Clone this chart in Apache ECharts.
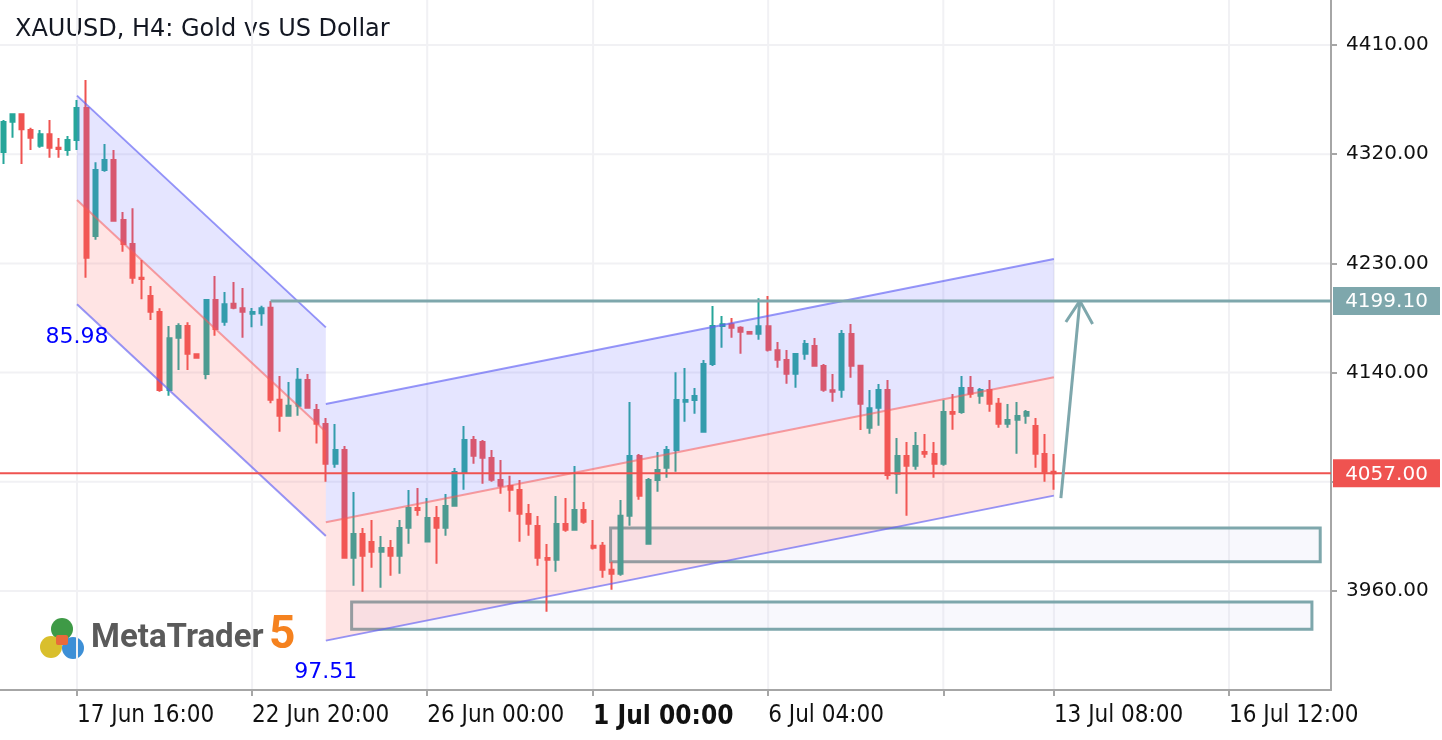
<!DOCTYPE html>
<html>
<head>
<meta charset="utf-8">
<script src="https://cdn.jsdelivr.net/npm/echarts@6.0.0/dist/echarts.min.js"></script>
<style>
  html, body { margin: 0; padding: 0; background: #ffffff; }
  #chart { width: 1442px; height: 740px; }
</style>
</head>
<body>
<div id="chart"></div>
<script>
// trading days shown on the H4 chart (weekends skipped), six bars per day
const tradingDays = ["16 Jun", "17 Jun", "18 Jun", "19 Jun", "22 Jun", "23 Jun", "24 Jun", "25 Jun", "26 Jun",
  "29 Jun", "30 Jun", "1 Jul", "2 Jul", "3 Jul", "6 Jul", "7 Jul", "8 Jul", "9 Jul", "10 Jul",
  "13 Jul", "14 Jul", "15 Jul", "16 Jul", "17 Jul", "20 Jul"];
const barHours = ["00:00", "04:00", "08:00", "12:00", "16:00", "20:00"];
const firstBarOffset = 2; // chart starts at 16 Jun 08:00

// bar index of the labelled time ticks
const timeTicks = [8, 27, 46, 64, 83, 102, 114, 133];
const hiddenTimeTicks = [102];
const boldTimeTicks = [64];

const priceTicks = [3960, 4050, 4140, 4230, 4320, 4410];
const priceLabels = [3960, 4140, 4230, 4320, 4410];

// OHLC per bar (bar 0 = 16 Jun 08:00 ... bar 114 = 13 Jul 08:00)
const open = [4321.8, 4346.8, 4352.9, 4339.9, 4327.0, 4336.4, 4325.4, 4323.5, 4331.7, 4358.1,
  4252.6, 4307.0, 4315.2, 4265.8, 4246.0, 4218.2, 4203.1, 4189.9, 4125.7, 4168.8,
  4178.4, 4155.1, 4138.9, 4199.8, 4181.9, 4196.8, 4193.0, 4188.6, 4188.9, 4193.5,
  4117.7, 4104.5, 4112.7, 4133.9, 4109.2, 4097.6, 4064.9, 4076.2, 3987.4, 4007.0,
  4000.4, 3992.4, 3995.4, 3989.1, 4012.2, 4028.4, 4000.7, 4020.2, 4012.2, 4030.3,
  4058.1, 4084.5, 4082.8, 4069.6, 4051.5, 4046.5, 4043.2, 4023.5, 4013.6, 3987.2,
  3985.8, 4015.2, 4010.5, 4026.8, 3997.3, 3997.3, 3977.6, 3974.3, 4022.1, 4071.3,
  3999.0, 4051.5, 4061.6, 4076.2, 4116.0, 4117.4, 4091.3, 4147.1, 4178.4, 4179.8,
  4177.0, 4173.5, 4172.1, 4178.2, 4158.4, 4150.4, 4139.1, 4155.6, 4161.9, 4145.4,
  4125.4, 4125.9, 4171.8, 4145.7, 4094.6, 4111.1, 4125.7, 4056.7, 4071.3, 4063.3,
  4074.6, 4072.9, 4064.9, 4107.5, 4107.5, 4127.3, 4120.9, 4125.7, 4114.4, 4097.9,
  4101.2, 4104.5, 4096.0, 4072.9, 4058.3];
const close = [4346.5, 4352.9, 4340.5, 4333.6, 4336.4, 4325.4, 4324.3, 4331.7, 4358.1, 4234.7,
  4307.0, 4315.2, 4265.2, 4246.0, 4218.2, 4217.2, 4190.2, 4125.7, 4168.3, 4178.4,
  4155.6, 4152.3, 4199.8, 4175.9, 4196.3, 4193.5, 4190.2, 4190.0, 4193.0, 4117.7,
  4104.5, 4112.7, 4134.2, 4111.1, 4097.9, 4064.9, 4076.2, 3987.4, 4007.0, 3989.1,
  3992.4, 3995.4, 3989.1, 4011.9, 4028.4, 4026.8, 4020.2, 4012.2, 4030.1, 4058.1,
  4084.5, 4071.5, 4069.9, 4051.7, 4046.8, 4043.5, 4023.7, 4015.5, 3987.4, 3985.8,
  4015.2, 4010.5, 4026.8, 4017.1, 3995.7, 3977.6, 3974.3, 4022.1, 4071.3, 4038.5,
  4051.5, 4059.7, 4076.2, 4117.4, 4117.4, 4120.7, 4147.1, 4178.4, 4179.8, 4177.0,
  4173.7, 4172.1, 4178.2, 4158.9, 4150.6, 4139.1, 4155.3, 4163.6, 4145.7, 4125.9,
  4124.3, 4171.8, 4145.7, 4114.4, 4110.6, 4125.7, 4055.6, 4071.3, 4063.3, 4079.5,
  4073.2, 4064.9, 4107.5, 4106.1, 4127.3, 4122.6, 4125.7, 4114.4, 4097.9, 4100.9,
  4104.3, 4107.5, 4073.2, 4058.3, 4057.0];
const low = [4311.9, 4333.6, 4311.9, 4323.5, 4325.4, 4317.1, 4317.1, 4318.8, 4323.5, 4218.2,
  4249.5, 4305.6, 4264.4, 4239.7, 4213.3, 4200.4, 4183.4, 4124.3, 4120.9, 4142.2,
  4142.2, 4152.3, 4134.5, 4170.4, 4178.7, 4192.2, 4168.8, 4177.3, 4178.7, 4114.7,
  4091.3, 4104.5, 4104.5, 4111.1, 4081.5, 4050.1, 4061.6, 3987.4, 3964.4, 3959.4,
  3979.2, 3962.7, 3972.6, 3974.3, 3999.0, 4022.1, 4000.7, 3982.5, 4005.6, 4030.3,
  4043.5, 4064.9, 4048.4, 4050.1, 4040.2, 4025.3, 4000.6, 4005.6, 3980.8, 3942.9,
  3975.9, 4008.9, 4010.5, 4015.5, 3994.1, 3971.0, 3961.1, 3972.6, 4013.8, 4035.3,
  3999.0, 4041.9, 4053.4, 4058.3, 4099.5, 4106.1, 4091.3, 4145.4, 4160.5, 4168.8,
  4155.6, 4172.1, 4167.1, 4157.3, 4144.0, 4130.9, 4127.6, 4150.6, 4145.7, 4124.3,
  4116.0, 4119.3, 4135.8, 4092.7, 4089.7, 4096.2, 4051.8, 4040.2, 4022.1, 4060.0,
  4069.9, 4053.4, 4063.3, 4092.9, 4106.1, 4119.3, 4114.4, 4107.8, 4094.6, 4094.6,
  4073.2, 4097.9, 4061.6, 4050.1, 4043.5];
const high = [4348.2, 4353.2, 4353.2, 4341.8, 4339.9, 4348.2, 4333.4, 4335.0, 4364.7, 4381.2,
  4313.3, 4328.4, 4323.5, 4272.4, 4275.4, 4232.8, 4211.4, 4193.0, 4178.4, 4180.6,
  4181.5, 4155.1, 4199.8, 4219.6, 4206.4, 4214.7, 4209.7, 4193.2, 4195.1, 4199.1,
  4137.2, 4132.3, 4143.8, 4138.9, 4114.1, 4102.6, 4097.6, 4079.5, 4041.6, 4011.9,
  4018.5, 4005.3, 4002.0, 4018.5, 4043.2, 4044.9, 4036.7, 4030.1, 4040.0, 4061.4,
  4096.0, 4087.8, 4084.5, 4076.2, 4068.0, 4055.0, 4051.5, 4031.7, 4021.8, 3998.7,
  4038.3, 4036.7, 4063.0, 4033.3, 4018.5, 4000.4, 3984.2, 4035.0, 4115.8, 4072.9,
  4053.1, 4074.6, 4079.5, 4140.3, 4143.8, 4127.3, 4150.4, 4194.9, 4186.7, 4185.0,
  4178.2, 4173.5, 4201.2, 4203.1, 4165.2, 4158.6, 4155.3, 4166.9, 4168.5, 4147.1,
  4138.9, 4175.1, 4180.0, 4145.7, 4125.7, 4130.6, 4133.9, 4086.1, 4082.8, 4091.0,
  4089.4, 4082.8, 4117.4, 4122.4, 4137.2, 4137.2, 4127.3, 4133.9, 4119.1, 4114.1,
  4115.8, 4109.2, 4102.6, 4089.4, 4072.9];

// regression channels: start/end bar, middle line price at both ends, half width
const channelStart = [8, 35];
const channelEnd = [35, 114];
const channelMidStart = [4282.3, 4016.6];
const channelMidEnd = [4091.3, 4136.1];
const channelHalf = [85.98, 97.51];
const channelLabelX = [8, 35];
const channelLabelY = [4169.3, 3893.2];

// zones (rectangles): bar range and price range
const zoneLeft = [65.9, 37.8];
const zoneRight = [142.9, 142.0];
const zoneTop = [4011.9, 3950.9];
const zoneBottom = [3984.1, 3928.4];

// target level, current price, projection arrow
const targetStartBar = 29;
const targetPrice = 4199.10;
const lastPrice = 4057.00;
const arrowX = [114.76, 116.82];
const arrowY = [4036.6, 4199.1];
const arrowHeadX = [115.3, 116.82, 118.2];
const arrowHeadY = [4181.7, 4199.1, 4180.0];

const xMin = -0.355, xMax = 144.07;
const yMin = 3878.4, yMax = 4447.1;

const times = [];
tradingDays.forEach(d => barHours.forEach(h => times.push(d + " " + h)));
times.splice(0, firstBarOffset);

const candles = open.map((o, i) => [i, o, close[i], low[i], high[i]]);

const UP = "#26a69a", DOWN = "#ef5350", LEVEL = "#7ea7ac";
const axisFont = "'DejaVu Sans Condensed', 'Liberation Sans Narrow', sans-serif";
const priceFont = "'DejaVu Sans', sans-serif";

const chart = echarts.init(document.getElementById("chart"));

const option = {
  animation: false,
  backgroundColor: "#ffffff",
  grid: { left: 0, right: 111, top: 0, bottom: 50 },
  xAxis: {
    type: "value", min: xMin, max: xMax,
    axisLine: { onZero: false, lineStyle: { color: "#a6a6a6", width: 2 } },
    axisTick: { show: true, customValues: timeTicks, length: 6, lineStyle: { color: "#a6a6a6", width: 2 } },
    axisLabel: {
      customValues: timeTicks, align: "left", margin: 14, fontSize: 24, fontFamily: axisFont, color: "#111111",
      formatter: v => {
        if (hiddenTimeTicks.includes(v)) return "";
        return boldTimeTicks.includes(v) ? "{b|" + times[v] + "}" : times[v];
      },
      rich: { b: { fontSize: 26, fontWeight: "bold", fontFamily: axisFont, color: "#111111" } }
    },
    splitLine: { show: false }
  },
  yAxis: {
    type: "value", position: "right", min: yMin, max: yMax,
    axisLine: { onZero: false, lineStyle: { color: "#a6a6a6", width: 2 } },
    axisTick: { show: true, customValues: priceTicks, length: 6, lineStyle: { color: "#a6a6a6", width: 2 } },
    axisLabel: {
      customValues: priceLabels, margin: 15, fontSize: 20, fontFamily: priceFont, color: "#111111",
      formatter: v => v.toFixed(2)
    },
    splitLine: { show: false }
  },
  graphic: [
    { type: "text", left: 15, top: 18, style: { text: "XAUUSD, H4: Gold vs US Dollar", fontSize: 24, fontFamily: "'DejaVu Sans', sans-serif", fill: "#131722" } },
    { type: "group", left: 40, top: 618, children: [
      { type: "circle", shape: { cx: 22, cy: 12, r: 11 }, style: { fill: "#3e9a46" } },
      { type: "circle", shape: { cx: 11, cy: 30, r: 11 }, style: { fill: "#d9bf2c" } },
      { type: "circle", shape: { cx: 33, cy: 31, r: 11 }, style: { fill: "#3d8fd6" } },
      { type: "rect", shape: { x: 16, y: 18, width: 12, height: 10, r: 2 }, style: { fill: "#e86a3a" } }
    ] },
    { type: "text", left: 91, top: 622, style: { text: "MetaTrader", fontSize: 33, fontWeight: "bold", fontFamily: "Roboto, sans-serif", fill: "#5a5a5a" } },
    { type: "text", left: 269, top: 613, style: { text: "5", fontSize: 46, fontWeight: "bold", fontFamily: "Roboto, sans-serif", fill: "#f5821f" } }
  ],
  series: [
    {
      // grid lines at the axis ticks
      type: "custom", z: 0, silent: true, clip: true,
      data: timeTicks.map(t => [0, t]).concat(priceTicks.map(p => [1, p])),
      renderItem(params, api) {
        const cs = params.coordSys;
        const kind = api.value(0), v = api.value(1);
        if (kind === 0) {
          const x = api.coord([v, yMin])[0];
          return { type: "line", shape: { x1: x, y1: cs.y, x2: x, y2: cs.y + cs.height }, style: { stroke: "#f1f1f4", lineWidth: 2 } };
        }
        const y = api.coord([xMin, v])[1];
        return { type: "line", shape: { x1: cs.x, y1: y, x2: cs.x + cs.width, y2: y }, style: { stroke: "#f1f1f4", lineWidth: 2 } };
      }
    },
    {
      // zones
      type: "custom", z: 1, silent: true,
      data: zoneLeft.map((l, i) => [l, zoneTop[i], zoneRight[i], zoneBottom[i]]),
      renderItem(params, api) {
        const a = api.coord([api.value(0), api.value(1)]);
        const b = api.coord([api.value(2), api.value(3)]);
        return { type: "rect", shape: { x: a[0], y: a[1], width: b[0] - a[0], height: b[1] - a[1] },
          style: { fill: "rgba(205,205,240,0.14)", stroke: LEVEL, lineWidth: 3 } };
      }
    },
    {
      type: "candlestick", z: 2, silent: true,
      data: candles,
      encode: { x: 0, y: [1, 2, 3, 4] },
      barWidth: 4.5,
      itemStyle: { color: UP, color0: DOWN, borderColor: UP, borderColor0: DOWN, borderWidth: 2 }
    },
    {
      // channels
      type: "custom", z: 3, silent: true,
      data: channelStart.map((s, i) => [s, channelEnd[i], channelMidStart[i], channelMidEnd[i], channelHalf[i]]),
      renderItem(params, api) {
        const x0 = api.value(0), x1 = api.value(1), m0 = api.value(2), m1 = api.value(3), h = api.value(4);
        const up0 = api.coord([x0, m0 + h]), up1 = api.coord([x1, m1 + h]);
        const md0 = api.coord([x0, m0]), md1 = api.coord([x1, m1]);
        const lo0 = api.coord([x0, m0 - h]), lo1 = api.coord([x1, m1 - h]);
        const seg = (p, q, c) => ({ type: "line", shape: { x1: p[0], y1: p[1], x2: q[0], y2: q[1] }, style: { stroke: c, lineWidth: 2 } });
        return { type: "group", children: [
          { type: "polygon", shape: { points: [up0, up1, md1, md0] }, style: { fill: "rgba(110,110,255,0.18)" } },
          { type: "polygon", shape: { points: [md0, md1, lo1, lo0] }, style: { fill: "rgba(255,105,105,0.18)" } },
          seg(up0, up1, "rgba(95,95,245,0.65)"),
          seg(lo0, lo1, "rgba(95,95,245,0.65)"),
          seg(md0, md1, "rgba(245,90,90,0.55)")
        ] };
      }
    },
    {
      // channel width labels
      type: "custom", z: 6, silent: true,
      data: channelLabelX.map((x, i) => [x, channelLabelY[i]]),
      renderItem(params, api) {
        const p = api.coord([api.value(0), api.value(1)]);
        return { type: "text", style: { text: channelHalf[params.dataIndex].toFixed(2), x: p[0], y: p[1],
          align: "center", verticalAlign: "middle", fontSize: 22, fontFamily: priceFont, fill: "#0000ff" } };
      }
    },
    {
      type: "line", z: 5, silent: true, symbol: "none",
      data: [[targetStartBar, targetPrice], [xMax, targetPrice]],
      lineStyle: { color: LEVEL, width: 3 }
    },
    {
      type: "line", z: 5, silent: true, symbol: "none",
      data: [[xMin, lastPrice], [xMax, lastPrice]],
      lineStyle: { color: DOWN, width: 2 }
    },
    {
      type: "line", z: 5, silent: true, symbol: "none",
      data: arrowX.map((x, i) => [x, arrowY[i]]),
      lineStyle: { color: LEVEL, width: 3 }
    },
    {
      type: "line", z: 5, silent: true, symbol: "none",
      data: arrowHeadX.map((x, i) => [x, arrowHeadY[i]]),
      lineStyle: { color: LEVEL, width: 3 }
    },
    {
      // price tags on the axis
      type: "custom", z: 7, silent: true,
      data: [[xMax, targetPrice], [xMax, lastPrice]],
      renderItem(params, api) {
        const cs = params.coordSys;
        const y = api.coord([api.value(0), api.value(1)])[1];
        const x0 = cs.x + cs.width + 2;
        const fill = params.dataIndex === 0 ? LEVEL : DOWN;
        return { type: "group", children: [
          { type: "rect", shape: { x: x0, y: y - 14, width: 1440 - x0, height: 28 }, style: { fill } },
          { type: "text", style: { text: api.value(1).toFixed(2), x: (x0 + 1440) / 2, y: y + 1,
            align: "center", verticalAlign: "middle", fontSize: 20, fontFamily: priceFont, fill: "#ffffff" } }
        ] };
      }
    }
  ]
};

chart.setOption(option);
</script>
</body>
</html>
